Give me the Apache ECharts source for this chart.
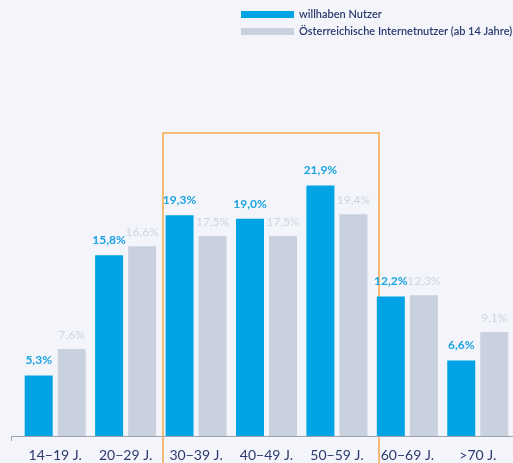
<!DOCTYPE html>
<html>
<head>
<meta charset="utf-8">
<script src="https://cdn.jsdelivr.net/npm/echarts@6/dist/echarts.min.js"></script>
<style>
  html, body { margin: 0; padding: 0; background: #f4f5fa; }
  #chart { width: 513px; height: 463px; }
</style>
</head>
<body>
<div id="chart"></div>
<script>
const categories = ['14−19 J.', '20−29 J.', '30−39 J.', '40−49 J.', '50−59 J.', '60−69 J.', '>70 J.']
const willhaben = [5.3, 15.8, 19.3, 19.0, 21.9, 12.2, 6.6]
const internet = [7.6, 16.6, 17.5, 17.5, 19.4, 12.3, 9.1]
const seriesNames = ['willhaben Nutzer', 'Österreichische Internetnutzer (ab 14 Jahre)']

const fmt = p => p.value.toFixed(1).replace('.', ',') + '%'

const chart = echarts.init(document.getElementById('chart'))

chart.setOption({
  backgroundColor: '#f4f5fa',
  animation: false,
  textStyle: { fontFamily: 'Lato, "Noto Sans", sans-serif' },
  legend: {
    orient: 'vertical',
    left: 236,
    top: 4,
    itemWidth: 53,
    itemHeight: 7,
    itemGap: 6,
    icon: 'rect',
    textStyle: { color: '#2b3a6e', fontSize: 11, fontWeight: 600 },
    data: seriesNames
  },
  grid: { left: 20, top: 93, width: 504, height: 343 },
  xAxis: {
    type: 'category',
    data: categories,
    axisLine: { lineStyle: { color: '#9ea4b3' } },
    axisTick: { length: 5, lineStyle: { color: '#9ea4b3' } },
    axisLabel: { color: '#2b3a6e', fontSize: 14, margin: 12, interval: 0 }
  },
  yAxis: {
    type: 'value',
    min: 0,
    max: 30,
    show: false,
    splitLine: { show: false }
  },
  series: [
    {
      name: seriesNames[0],
      type: 'bar',
      data: willhaben,
      barWidth: 28,
      barGap: '18%',
      itemStyle: { color: '#00a4e4' },
      label: {
        show: true,
        position: 'top',
        distance: 9,
        formatter: fmt,
        color: '#1ba3e2',
        fontWeight: 'bold',
        fontSize: 12
      }
    },
    {
      name: seriesNames[1],
      type: 'bar',
      data: internet,
      barWidth: 28,
      itemStyle: { color: '#c9d1de' },
      label: {
        show: true,
        position: 'top',
        distance: 8,
        formatter: fmt,
        color: '#cfd4df',
        fontSize: 12
      }
    }
  ],
  graphic: [
    {
      type: 'rect',
      shape: { x: 163, y: 133, width: 216, height: 360 },
      style: { fill: 'none', stroke: '#f5a94c', lineWidth: 1.5 },
      z: 0
    },
    {
      type: 'line',
      shape: { x1: 11, y1: 436.5, x2: 20, y2: 436.5 },
      style: { stroke: '#9ea4b3', lineWidth: 1 }
    },
    {
      type: 'line',
      shape: { x1: 11.5, y1: 436, x2: 11.5, y2: 441 },
      style: { stroke: '#9ea4b3', lineWidth: 1 }
    }
  ]
})
</script>
</body>
</html>
